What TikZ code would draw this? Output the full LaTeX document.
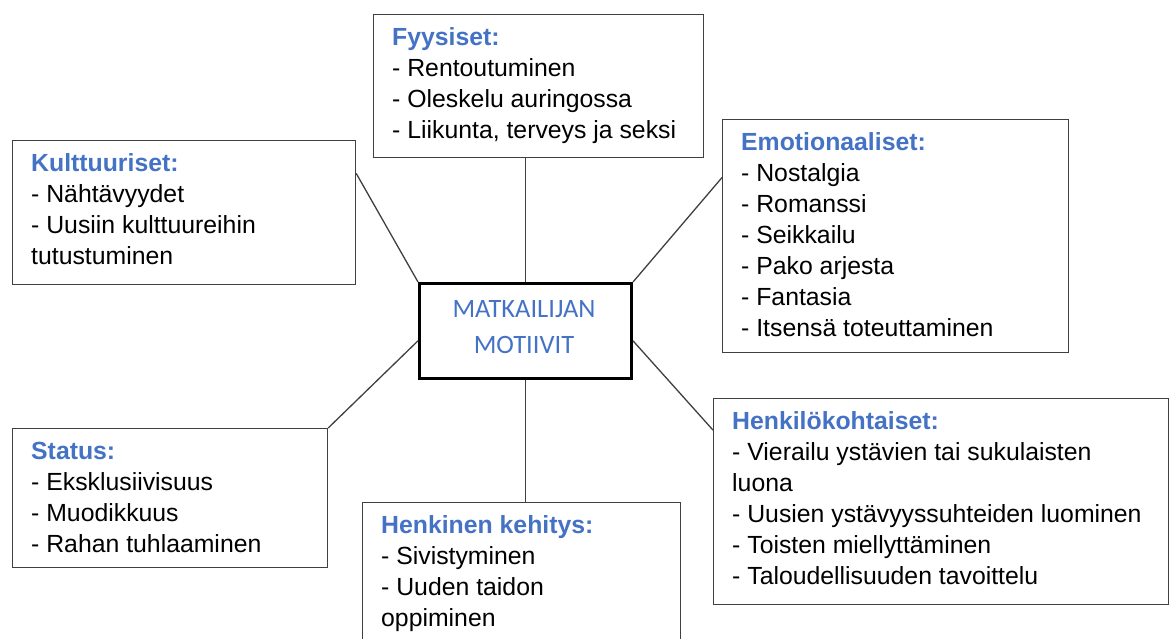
\documentclass[tikz,border=0pt]{standalone}
\usepackage{fontspec}
\setmainfont{Liberation Sans}
\newfontfamily\ctrfont{Carlito}
\usetikzlibrary{calc}
\definecolor{headblue}{RGB}{68,114,196}
\definecolor{edgegray}{RGB}{64,64,64}
\tikzset{
  box/.style={draw=edgegray, line width=1.2pt, rectangle, inner sep=0pt, anchor=north west, fill=white},
  ctrbox/.style={draw=black, line width=3pt, rectangle, inner sep=0pt, anchor=north west, fill=white},
  txt/.style={font=\fontsize{24.8}{31}\selectfont, align=left, inner sep=0pt, anchor=north west, xshift=19pt, yshift=-9.3pt},
  ctrtxt/.style={font=\ctrfont\fontsize{26.5}{36}\selectfont, align=center, inner sep=0pt, anchor=north, text=headblue},
  link/.style={draw=edgegray, line width=1.3pt},
}
\newcommand{\hd}[1]{\strut{\color{headblue}\bfseries #1}}
\begin{document}
\begin{tikzpicture}[x=1pt,y=-1pt]
\path[use as bounding box, clip] (0,0) rectangle (1173,639);
\fill[white] (0,0) rectangle (1173,639);

% center
\node[ctrbox, minimum width=212pt, minimum height=95pt] (ctr) at (418,282) {};
\node[ctrtxt] (ctrt) at (524,292.5) {\strut MATKAILIJAN\\MOTIIVIT};

% boxes
\node[box, minimum width=330pt, minimum height=143pt] (fyy) at (373,14) {};
\node[box, minimum width=343pt, minimum height=144pt] (kul) at (12,140) {};
\node[box, minimum width=346pt, minimum height=233pt] (emo) at (722,119) {};
\node[box, minimum width=315pt, minimum height=139pt] (sta) at (12,428) {};
\node[box, minimum width=318pt, minimum height=150pt] (hen) at (362,502) {};
\node[box, minimum width=455pt, minimum height=206pt] (hlo) at (713,398) {};

% texts
\node[txt] (fyyt) at (fyy.north west) {\hd{Fyysiset:}\\- Rentoutuminen\\- Oleskelu auringossa\\- Liikunta, terveys ja seksi};
\node[txt] (kult) at (kul.north west) {\hd{Kulttuuriset:}\\- Nähtävyydet\\- Uusiin kulttuureihin\\tutustuminen};
\node[txt] (emot) at (emo.north west) {\hd{Emotionaaliset:}\\- Nostalgia\\- Romanssi\\- Seikkailu\\- Pako arjesta\\- Fantasia\\- Itsensä toteuttaminen};
\node[txt] (stat) at (sta.north west) {\hd{Status:}\\- Eksklusiivisuus\\- Muodikkuus\\- Rahan tuhlaaminen};
\node[txt] (hent) at (hen.north west) {\hd{Henkinen kehitys:}\\- Sivistyminen\\- Uuden taidon\\oppiminen};
\node[txt] (hlot) at (hlo.north west) {\hd{Henkilökohtaiset:}\\- Vierailu ystävien tai sukulaisten\\luona\\- Uusien ystävyyssuhteiden luominen\\- Toisten miellyttäminen\\- Taloudellisuuden tavoittelu};

% connector end points
\coordinate (kulp) at ($(kul.north east)!0.23!(kul.south east)$);
\coordinate (emop) at ($(emo.north west)!0.25!(emo.south west)$);
\coordinate (hlop) at ($(hlo.north west)!0.155!(hlo.south west)$);
\coordinate (ctrl) at ($(ctr.north west)!0.6!(ctr.south west)$);
\coordinate (ctrr) at ($(ctr.north east)!0.6!(ctr.south east)$);

% connectors
\draw[link] (ctr.north) -- (ctr.north |- fyy.south);
\draw[link] (ctr.south) -- (ctr.south |- hen.north);
\draw[link] (kulp) -- (ctr.north west);
\draw[link] (emop) -- (ctr.north east);
\draw[link] (ctrl) -- (sta.north east);
\draw[link] (ctrr) -- (hlop);
\end{tikzpicture}
\end{document}
